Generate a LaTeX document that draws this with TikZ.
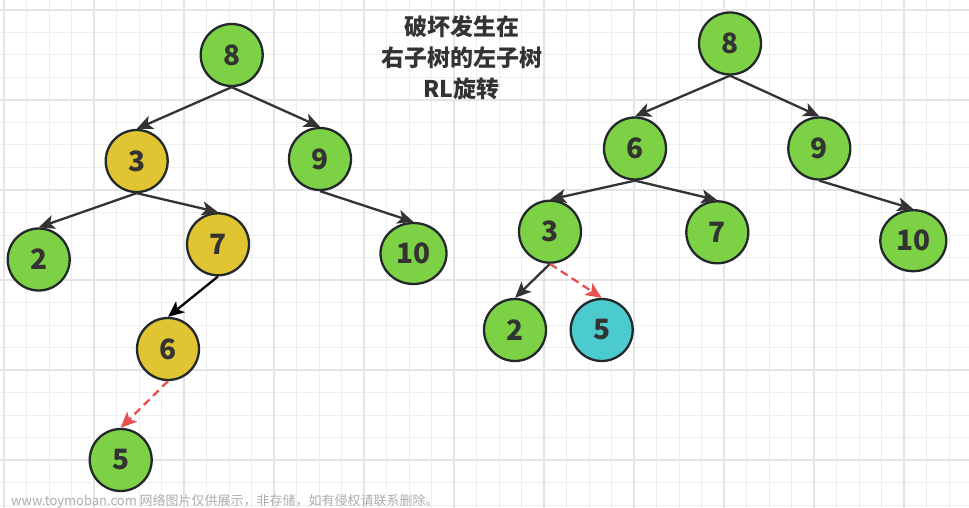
\documentclass[tikz,border=0pt]{standalone}
\usepackage{fontspec}
\setmainfont{Noto Sans CJK SC}
\usetikzlibrary{arrows.meta,shapes.geometric}
\definecolor{gfill}{HTML}{7CD144}
\definecolor{yfill}{HTML}{E0C432}
\definecolor{cfill}{HTML}{4CCBCE}
\definecolor{bord}{HTML}{23282C}
\definecolor{txt}{HTML}{333333}
\definecolor{edgec}{HTML}{333333}
\definecolor{redc}{HTML}{E85050}
\definecolor{gridminor}{HTML}{EEEEEE}
\definecolor{gridmajor}{HTML}{E4E4E4}
\tikzset{
  tnode/.style={circle, draw=bord, line width=2.3pt, minimum size=62pt, inner sep=0pt,
    text=txt, font=\fontsize{28}{28}\selectfont\bfseries},
  wnode/.style={tnode, ellipse, minimum width=66pt, minimum height=61pt},
  gnode/.style={fill=gfill},
  ynode/.style={fill=yfill},
  cnode/.style={fill=cfill},
  conn/.style={draw=edgec, line width=2.3pt, -{Stealth[length=16pt,width=14pt,inset=4pt]}},
  blackconn/.style={conn, draw=black},
  redconn/.style={draw=redc, line width=2.3pt, dash pattern=on 8pt off 5pt,
    -{Stealth[length=16pt,width=14pt,inset=4pt,fill=redc]}},
}
\begin{document}
\begin{tikzpicture}[x=1pt,y=-1pt]
\useasboundingbox (0,0) rectangle (969,508);
\fill[white] (0,0) rectangle (969,508);
% grid
\foreach \i in {0,...,43} {
  \draw[gridminor, line width=1pt] ({4+22.5*\i},0) -- ({4+22.5*\i},508);
}
\foreach \i in {0,...,22} {
  \draw[gridminor, line width=1pt] (0,{10+22.5*\i}) -- (969,{10+22.5*\i});
}
\foreach \i in {0,...,10} {
  \draw[gridmajor, line width=1.2pt] ({4+90*\i},0) -- ({4+90*\i},508);
}
\foreach \i in {0,...,5} {
  \draw[gridmajor, line width=1.2pt] (0,{10+90*\i}) -- (969,{10+90*\i});
}

% title
\node[text=txt, align=center, font=\fontsize{23}{31}\selectfont\bfseries] (title) at (461.7,57.5)
  {破坏发生在\\右子树的左子树\\RL旋转};

% left tree
\node[tnode, gnode] (L8) at (231.7,55) {8};
\node[tnode, ynode] (L3) at (136.7,161) {3};
\node[tnode, gnode] (L9) at (320,159) {9};
\node[tnode, gnode] (L2) at (38.7,259.5) {2};
\node[tnode, ynode] (L7) at (218,244.3) {7};
\node[wnode, gnode] (L10) at (413.5,253.5) {10};
\node[tnode, ynode] (L6) at (168,349) {6};
\node[tnode, gnode] (L5) at (120.7,460) {5};

\draw[conn] (L8.south) -- (L3.north);
\draw[conn] (L8.south) -- (L9.north);
\draw[conn] (L3.south) -- (L2.north);
\draw[conn] (L3.south) -- (L7.north);
\draw[conn] (L9.south) -- (L10.north);
\draw[blackconn] (L7.south) -- (L6.north);
\draw[redconn] (L6.south) -- (L5.north);

% right tree
\node[tnode, gnode] (R8) at (730,43.5) {8};
\node[tnode, gnode] (R6) at (635,148.5) {6};
\node[tnode, gnode] (R9) at (819.3,148.5) {9};
\node[tnode, gnode] (R3) at (550,231.7) {3};
\node[tnode, gnode] (R7) at (717.3,232.3) {7};
\node[wnode, gnode] (R10) at (913.3,240.7) {10};
\node[tnode, gnode] (R2) at (515,330) {2};
\node[tnode, cnode] (R5) at (601.7,330) {5};

\draw[conn] (R8.south) -- (R6.north);
\draw[conn] (R8.south) -- (R9.north);
\draw[conn] (R6.south) -- (R3.north);
\draw[conn] (R6.south) -- (R7.north);
\draw[conn] (R9.south) -- (R10.north);
\draw[conn] (R3.south) -- (R2.north);
\draw[redconn] (R3.south) -- (R5.north);

% watermark
\node[anchor=base west, inner sep=0pt, text=black!32, font=\fontsize{13}{13}\selectfont] (wm) at (11,505)
  {www.toymoban.com 网络图片仅供展示，非存储，如有侵权请联系删除。};
\end{tikzpicture}
\end{document}
